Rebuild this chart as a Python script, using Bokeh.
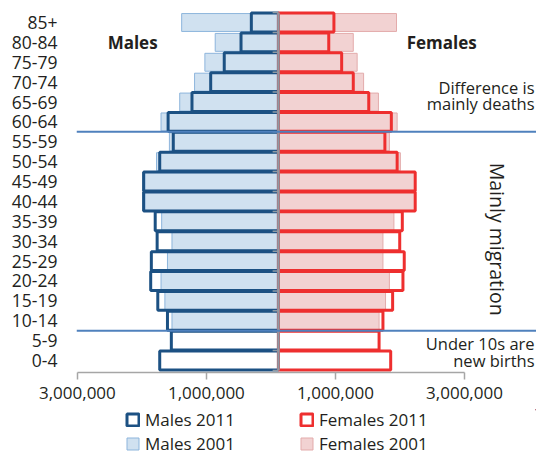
from bokeh.plotting import figure
from bokeh.layouts import column
from bokeh.models import (Range1d, LinearAxis, FixedTicker, Span, Label, Legend,
                          LegendItem, ColumnDataSource)
from bokeh.embed import file_html
from bokeh.resources import INLINE

# ---------------- data (bottom row first) ----------------
ages = ["0-4", "5-9", "10-14", "15-19", "20-24", "25-29", "30-34", "35-39", "40-44",
        "45-49", "50-54", "55-59", "60-64", "65-69", "70-74", "75-79", "80-84", "85+"]
males_2011 = [1.84, 1.66, 1.72, 1.87, 1.98, 1.97, 1.88, 1.91, 2.09,
              2.09, 1.84, 1.63, 1.71, 1.34, 1.05, 0.84, 0.58, 0.42]          # millions
females_2011 = [1.74, 1.56, 1.62, 1.77, 1.93, 1.95, 1.88, 1.92, 2.12,
                2.12, 1.84, 1.65, 1.75, 1.40, 1.16, 0.98, 0.78, 0.86]
males_2001 = [None, None, 1.65, 1.76, 1.82, 1.72, 1.65, 1.81, 2.07,
              2.07, 1.89, 1.69, 1.82, 1.53, 1.30, 1.14, 0.98, 1.50]
females_2001 = [None, None, 1.56, 1.66, 1.72, 1.62, 1.62, 1.79, 2.11,
                2.11, 1.89, 1.72, 1.84, 1.55, 1.32, 1.22, 1.16, 1.83]
x_ticks = [-3000000, -1000000, 1000000, 3000000]
x_tick_labels = ["3,000,000", "1,000,000", "1,000,000", "3,000,000"]
separators_below = ["10-14", "60-64"]   # lines drawn under these age groups

MIL = 1_000_000
FONT = "Open Sans"
TXT = "#231f20"
M11, F11 = "#1c5183", "#ee2f2f"
M01_FILL, M01_LINE = "#d0e1f0", "#8db5dc"
F01_FILL, F01_LINE = "#f2d2d2", "#e3abab"

ypos = list(range(len(ages)))

def src(vals, sign):
    ys, vs = [], []
    for y, v in zip(ypos, vals):
        if v is not None:
            ys.append(y)
            vs.append(sign * v * MIL)
    return ColumnDataSource(dict(y=ys, v=vs, z=[0] * len(ys)))

STYLES = {
    "m11": dict(fill_color=None, line_color=M11, line_width=3),
    "f11": dict(fill_color=None, line_color=F11, line_width=3),
    "m01": dict(fill_color=M01_FILL, line_color=M01_LINE, line_width=1),
    "f01": dict(fill_color=F01_FILL, line_color=F01_LINE, line_width=1),
}

p = figure(width=536, height=409, output_backend="svg", toolbar_location=None,
           x_range=Range1d(-3.13 * MIL, 4.0 * MIL), y_range=Range1d(-0.604, 17.704),
           x_axis_location=None, min_border_top=8, min_border_right=0,
           min_border_left=76, min_border_bottom=37)
p.outline_line_color = None
p.grid.visible = False
p.background_fill_color = "white"
p.border_fill_color = "white"

# 2001 bars
p.hbar(y="y", left="v", right="z", height=0.9, source=src(males_2001, -1), **STYLES["m01"])
p.hbar(y="y", left="z", right="v", height=0.9, source=src(females_2001, 1), **STYLES["f01"])
# 2011 bars (outlines)
p.hbar(y="y", left="v", right="z", height=0.95, source=src(males_2011, -1), **STYLES["m11"])
p.hbar(y="y", left="z", right="v", height=0.95, source=src(females_2011, 1), **STYLES["f11"])

# centre axis line with small ticks at row boundaries
bounds = [y - 0.5 for y in ypos] + [ypos[-1] + 0.5]
p.segment(x0=[0], x1=[0], y0=[bounds[0]], y1=[bounds[-1]], line_color="#8e99a4", line_width=2.5)
p.segment(x0=[0] * len(bounds), x1=[-0.09 * MIL] * len(bounds), y0=bounds, y1=bounds,
          line_color="#8e99a4", line_width=1.5)

# separator lines
for a in separators_below:
    p.add_layout(Span(location=ages.index(a) - 0.5, dimension="width",
                      line_color="#4f81bd", line_width=2))

# y axis (age groups)
yax = p.yaxis[0]
yax.ticker = FixedTicker(ticks=ypos)
yax.major_label_overrides = {i: a for i, a in enumerate(ages)}
yax.axis_line_color = None
yax.major_tick_line_color = None
yax.minor_tick_line_color = None
yax.major_tick_out = 0
yax.major_tick_in = 0
yax.major_label_standoff = 19
yax.major_label_text_font = FONT
yax.major_label_text_font_size = "17.5px"
yax.major_label_text_color = TXT

# x axis (shifted tick scale as in original)
shift = 0.116 * MIL
p.extra_x_ranges = {"ax": Range1d(p.x_range.start + shift, p.x_range.end + shift)}
xax = LinearAxis(x_range_name="ax", ticker=FixedTicker(ticks=x_ticks),
                 major_label_overrides={t: l for t, l in zip(x_ticks, x_tick_labels)},
                 bounds=(x_ticks[0], x_ticks[-1]))
xax.axis_line_color = "#a6a6a6"
xax.axis_line_width = 1.5
xax.major_tick_line_color = "#a6a6a6"
xax.major_tick_line_width = 1.5
xax.major_tick_out = 7
xax.major_tick_in = 0
xax.minor_tick_line_color = None
xax.major_label_standoff = 7
xax.major_label_text_font = FONT
xax.major_label_text_font_size = "17px"
xax.major_label_text_color = TXT
p.add_layout(xax, "below")

# annotations
def lab(text, x, y, align="center", bold=False, angle=0, size="16.5px"):
    p.add_layout(Label(x=x, y=y, text=text, text_align=align, text_baseline="middle",
                       text_font=FONT, text_font_size=size, text_color=TXT,
                       text_font_style="bold" if bold else "normal",
                       angle=angle, angle_units="deg"))

lab("Males", -2.26 * MIL, ages.index("80-84"), bold=True, size="17px")
lab("Females", 2.53 * MIL, ages.index("80-84"), bold=True, size="17px")
lab("Difference is", 3.97 * MIL, 13.73, align="right")
lab("mainly deaths", 3.97 * MIL, 12.93, align="right")
lab("Mainly migration", 3.39 * MIL, 6.10, angle=-90, size="19.5px")
lab("Under 10s are", 3.97 * MIL, 0.85, align="right")
lab("new births", 3.97 * MIL, 0.0, align="right")

# legend in its own strip below the chart
lg = figure(width=536, height=46, output_backend="svg", toolbar_location=None,
            x_range=Range1d(0, 1), y_range=Range1d(0, 1),
            x_axis_location=None, y_axis_location=None,
            min_border_left=76, min_border_right=0,
            min_border_top=0, min_border_bottom=0)
lg.outline_line_color = None
lg.grid.visible = False
# one off-screen record each so the legend swatches are drawn
rend = {k: lg.hbar(y=[5], left=[5], right=[6], height=1, **s) for k, s in STYLES.items()}
legend = Legend(items=[LegendItem(label="Males 2011", renderers=[rend["m11"]]),
                       LegendItem(label="Females 2011", renderers=[rend["f11"]]),
                       LegendItem(label="Males 2001", renderers=[rend["m01"]]),
                       LegendItem(label="Females 2001", renderers=[rend["f01"]])],
                orientation="horizontal", ncols=2, location=(49, 0),
                glyph_width=15, glyph_height=15, label_standoff=5,
                label_width=153, label_height=20, spacing=1, padding=0, margin=0,
                border_line_color=None, background_fill_alpha=0,
                label_text_font=FONT, label_text_font_size="17px", label_text_color=TXT)
lg.add_layout(legend, "center")

open("out.html", "w").write(file_html(column(p, lg, spacing=0), INLINE))
